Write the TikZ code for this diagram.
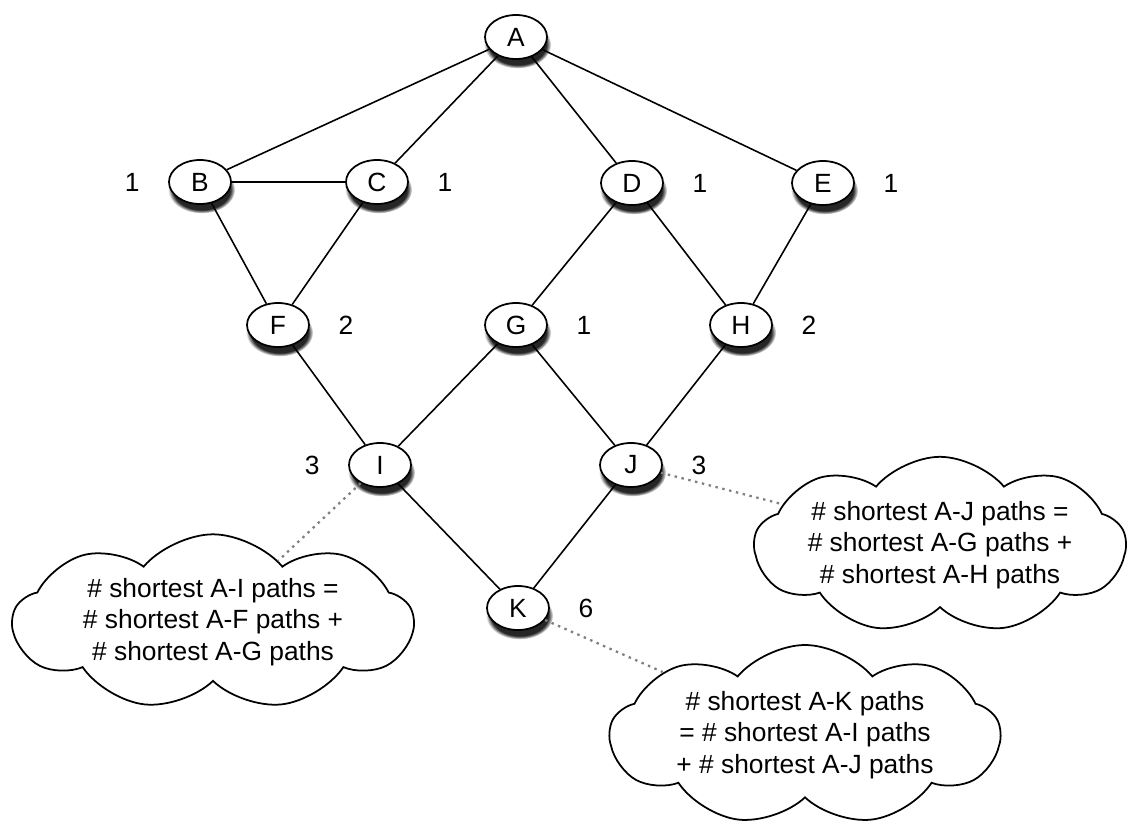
\documentclass[tikz,border=0pt]{standalone}
\usepackage{fontspec}
\setmainfont{Liberation Sans}
\usetikzlibrary{shapes.geometric,shapes.symbols,shadows}

\tikzset{
  vtx/.style={ellipse, draw, line width=1pt, fill=white, inner sep=0pt,
    minimum width=12.4mm, minimum height=8.8mm,
    circular drop shadow={shadow xshift=0.3mm, shadow yshift=-1.4mm, shadow scale=1.08, fill=black!85}},
  edge/.style={line width=0.9pt},
  note/.style={cloud, draw, line width=1pt, cloud puffs=9, cloud puff arc=100,
    cloud ignores aspect, align=center, inner sep=0pt},
  hint/.style={line width=1.3pt, gray, dash pattern=on 1.4pt off 2.6pt},
  every label/.style={font=\fontsize{15}{18}\selectfont},
  label distance=4.5mm
}

\begin{document}
\begin{tikzpicture}[x=0.2mm, y=-0.2mm, font=\fontsize{15}{18}\selectfont]
  \useasboundingbox (0,0) rectangle (1138,828);

  % vertices
  \node[vtx] (A) at (516,37) {A};
  \node[vtx, label=left:1] (B) at (200,182) {B};
  \node[vtx, label=right:1] (C) at (377,182) {C};
  \node[vtx, label=right:1] (D) at (632,183) {D};
  \node[vtx, label=right:1] (E) at (823,183) {E};
  \node[vtx, label=right:2] (F) at (278,325) {F};
  \node[vtx, label=right:1] (G) at (516,325) {G};
  \node[vtx, label=right:2] (H) at (741,325) {H};
  \node[vtx, label=left:3] (I) at (380,465) {I};
  \node[vtx, label=right:3] (J) at (631,465) {J};
  \node[vtx, label=right:6] (K) at (518,608) {K};

  % edges
  \foreach \u/\v in {A/B, A/C, A/D, A/E, B/C, B/F, C/F, D/G, D/H, E/H,
                     F/I, G/I, G/J, H/J, I/K, J/K}
    \draw[edge] (\u) -- (\v);

  % notes
  \node[note, minimum width=80mm, minimum height=33mm] (noteI) at (213,622)
    {\# shortest A-I paths =\\ \# shortest A-F paths +\\ \# shortest A-G paths};
  \node[note, minimum width=74mm, minimum height=35mm] (noteJ) at (940,545)
    {\# shortest A-J paths =\\ \# shortest A-G paths +\\ \# shortest A-H paths};
  \node[note, minimum width=78mm, minimum height=36mm] (noteK) at (805,735)
    {\# shortest A-K paths\\ = \# shortest A-I paths\\ + \# shortest A-J paths};

  \draw[hint] (I) -- (noteI);
  \draw[hint] (J) -- (noteJ);
  \draw[hint] (K) -- (noteK);
\end{tikzpicture}
\end{document}
